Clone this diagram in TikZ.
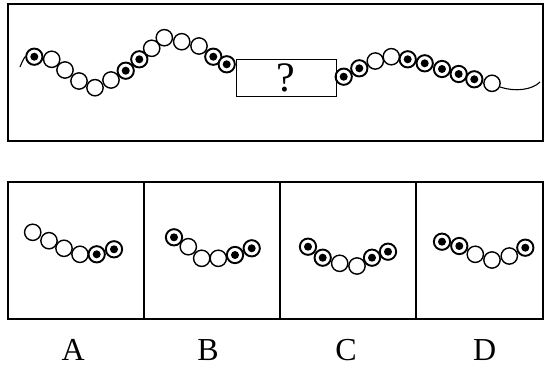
\documentclass[tikz,border=0pt]{standalone}
\usepackage{fontspec}
\setmainfont{Liberation Serif}
\begin{document}
\begin{tikzpicture}[
    x=1pt, y=-1pt,
    frame/.style={draw, line width=2pt},
    bead/.style={draw, circle, line width=1.4pt, fill=white, minimum size=16.3pt, inner sep=0pt},
    dotbead/.style={bead, line width=1.9pt, path picture={\fill[black] (path picture bounding box.center) circle (4pt);}},
    tail/.style={line width=1.1pt},
    qbox/.style={draw, line width=1pt, minimum width=100pt, minimum height=37pt, inner sep=0pt, font=\fontsize{42}{42}\selectfont},
    optlabel/.style={font=\fontsize{32}{32}\selectfont}
]
\useasboundingbox (0,0) rectangle (544,370);

% rámy
\draw[frame] (8,4) rectangle (543,141);
\draw[frame] (8,182) rectangle (543,319);
\draw[frame] (144,182) -- (144,319);
\draw[frame] (280,182) -- (280,319);
\draw[frame] (416,182) -- (416,319);

% konce řetízku
\coordinate (ltail) at (20,67);
\coordinate (rtail) at (540,82);

% horní řetízek, levá část
\foreach \x/\y/\t [count=\i] in {34.3/56.7/dotbead, 51.7/59.3/bead, 65/70/bead, 79/81/bead,
    95/87.7/bead, 111/80/bead, 125.7/70.7/dotbead, 139.3/59.3/dotbead, 151.7/48.3/bead,
    164.3/37.7/bead, 181.7/41.7/bead, 199/46/bead, 213.3/56.7/dotbead, 226.7/64.3/dotbead}
  \node[\t] (L\i) at (\x,\y) {};

% horní řetízek, pravá část
\foreach \x/\y/\t [count=\i] in {343.7/76.7/dotbead, 359.3/68.3/dotbead, 375.3/61/bead,
    391.3/56.7/bead, 407.7/59.3/dotbead, 424.7/63.3/dotbead, 442/69/dotbead,
    458.7/74/dotbead, 474.3/79.3/dotbead, 492/83.3/bead}
  \node[\t] (R\i) at (\x,\y) {};

\draw[tail] (ltail) .. controls (22,62) and (24,58) .. (L1.west);
\draw[tail] (R10.-25) .. controls (515,92) and (532,90) .. (rtail);

% chybějící část
\node[qbox] (Q) at (286,77.5) {?};

% možnosti
\foreach \x/\y/\t [count=\i] in {32.7/232.3/bead, 49/240.7/bead, 64/248.3/bead,
    80/254.3/bead, 96.7/254.3/dotbead, 114/249.3/dotbead}
  \node[\t] (A\i) at (\x,\y) {};
\foreach \x/\y/\t [count=\i] in {174/237.3/dotbead, 188.3/246.7/bead, 201.7/258.3/bead,
    218.3/258.3/bead, 235/255/dotbead, 251.7/248.3/dotbead}
  \node[\t] (B\i) at (\x,\y) {};
\foreach \x/\y/\t [count=\i] in {308/246.7/dotbead, 322.7/257.7/dotbead, 339.7/263.3/bead,
    357/266/bead, 372/257.7/dotbead, 388/251.7/dotbead}
  \node[\t] (C\i) at (\x,\y) {};
\foreach \x/\y/\t [count=\i] in {442/241.7/dotbead, 459.3/246/dotbead, 475.3/254.3/bead,
    492/260/bead, 509.3/256/bead, 525.3/247.7/dotbead}
  \node[\t] (D\i) at (\x,\y) {};

% popisky
\node[optlabel] (labA) at (73.3,350) {A};
\node[optlabel] (labB) at (208,350) {B};
\node[optlabel] (labC) at (346,350) {C};
\node[optlabel] (labD) at (484.7,350) {D};

\end{tikzpicture}
\end{document}
